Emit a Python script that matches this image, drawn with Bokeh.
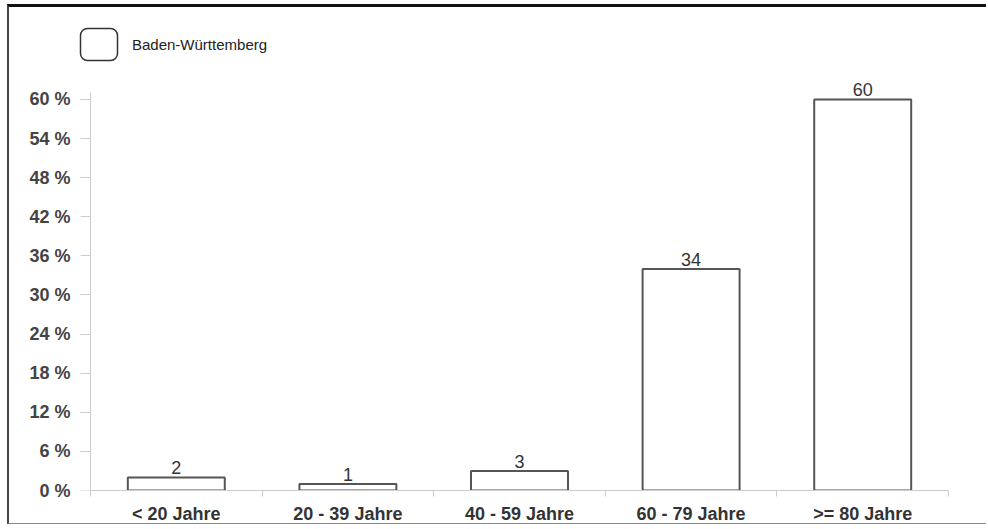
from bokeh.plotting import figure
from bokeh.models import (ColumnDataSource, Range1d, FixedTicker, PrintfTickFormatter,
                          Legend, LegendItem, LinearAxis, BoxAnnotation)
from bokeh.core.properties import value
from bokeh.embed import file_html
from bokeh.resources import INLINE

# ---- data ----
categories = ["< 20 Jahre", "20 - 39 Jahre", "40 - 59 Jahre", "60 - 79 Jahre", ">= 80 Jahre"]
values = [2, 1, 3, 34, 60]
series_name = "Baden-Württemberg"
y_ticks = [0, 6, 12, 18, 24, 30, 36, 42, 48, 54, 60]

xpos = [i + 0.5 for i in range(len(categories))]
src = ColumnDataSource(dict(x=xpos, top=values, label=[str(v) for v in values]))

FONT = "Liberation Sans"

p = figure(width=979, height=520, output_backend="svg", toolbar_location=None,
           x_range=Range1d(-0.0932, len(categories)), y_range=Range1d(0, 72.88),
           min_border_left=65, min_border_right=40, min_border_top=8, min_border_bottom=37,
           styles={"margin-left": "7px", "margin-top": "4px",
                   "border-top": "3px solid #111", "border-left": "2px solid #444",
                   "border-bottom": "1px solid #888"})
p.outline_line_color = None
p.xgrid.visible = False
p.ygrid.visible = False
p.background_fill_color = "white"
p.border_fill_color = "white"

bars = p.vbar(x="x", top="top", width=0.565, bottom=0, source=src,
              fill_color="white", line_color="#555555", line_width=2)

p.text(x="x", y="top", text="label", source=src, text_align="center",
       text_baseline="bottom", y_offset=-3, text_font=value(FONT),
       text_font_size="18px", text_color="#333333")

# y axis: labels (at the frame edge)
ya = p.yaxis[0]
ya.ticker = FixedTicker(ticks=y_ticks)
ya.formatter = PrintfTickFormatter(format="%d %%")
ya.axis_line_color = None
ya.major_tick_line_color = None
ya.major_tick_out = 0
ya.major_tick_in = 0
ya.minor_tick_line_color = None
ya.major_label_standoff = 4
ya.major_label_text_font = FONT
ya.major_label_text_font_size = "18px"
ya.major_label_text_font_style = "bold"
ya.major_label_text_color = "#444444"

# y axis: line and ticks at x = 0
ya2 = LinearAxis(ticker=FixedTicker(ticks=y_ticks), fixed_location=0, bounds=(0, 61.07),
                 axis_line_color="#cccccc", major_tick_line_color="#cccccc",
                 major_tick_out=10, major_tick_in=0, minor_tick_line_color=None,
                 major_label_text_color=None, major_label_text_font_size="1px",
                 major_label_standoff=0)
p.add_layout(ya2, "left")

# x axis
xa = p.xaxis[0]
xa.ticker = FixedTicker(ticks=xpos, minor_ticks=list(range(len(categories) + 1)))
xa.major_label_overrides = {x: c for x, c in zip(xpos, categories)}
xa.bounds = (0, len(categories))
xa.axis_line_color = "#cccccc"
xa.major_tick_line_color = None
xa.major_tick_out = 0
xa.major_tick_in = 0
xa.minor_tick_line_color = "#cccccc"
xa.minor_tick_out = 6
xa.minor_tick_in = 0
xa.major_label_standoff = 7
xa.major_label_text_font = FONT
xa.major_label_text_font_size = "18px"
xa.major_label_text_font_style = "bold"
xa.major_label_text_color = "#333333"

# legend: rounded swatch + label
swatch = BoxAnnotation(left=6, right=43, top=462, bottom=430,
                       left_units="screen", right_units="screen",
                       top_units="screen", bottom_units="screen",
                       border_radius=7, fill_color="white", fill_alpha=1,
                       line_color="#333333", line_width=1.5, line_alpha=1)
p.add_layout(swatch)
ghost = p.vbar(x=[], top=[], width=0.5, fill_alpha=0, line_alpha=0)
legend = Legend(items=[LegendItem(label=series_name, renderers=[ghost])],
                location=(6, 430), orientation="horizontal",
                glyph_width=37, glyph_height=32, label_standoff=15,
                padding=0, margin=0, border_line_color=None, background_fill_alpha=0,
                label_text_font=FONT, label_text_font_size="15px", label_text_color="#222222")
p.add_layout(legend, "center")

open("out.html", "w").write(file_html(p, INLINE))
